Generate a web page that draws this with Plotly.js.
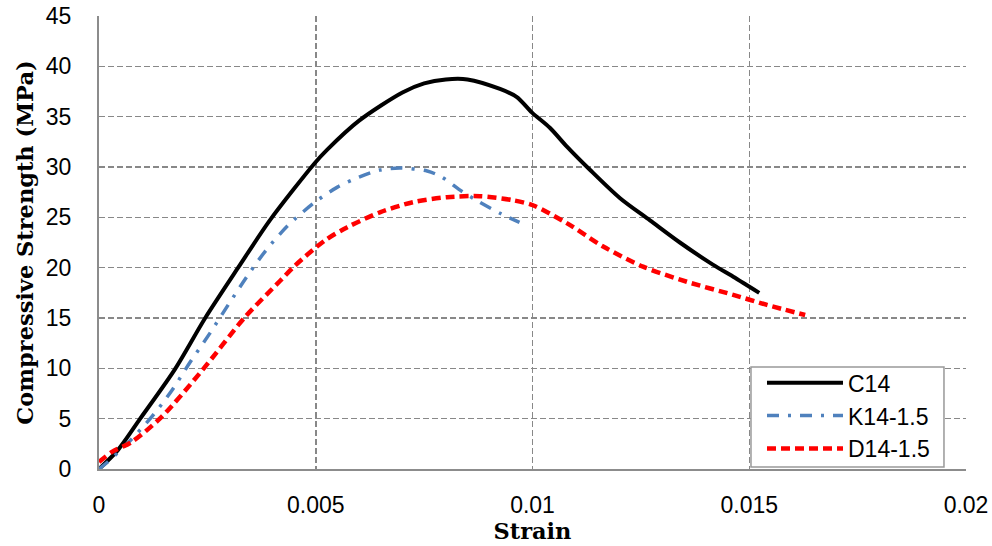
<!DOCTYPE html>
<html>
<head>
<meta charset="utf-8">
<script src="https://cdn.plot.ly/plotly-3.0.1.min.js"></script>
<style>html,body{margin:0;padding:0;background:#fff;}#chart{width:992px;height:546px;}</style>
</head>
<body>
<div id="chart"></div>
<script>
const c14Strain = [0, 0.00044, 0.00095, 0.00175, 0.00245, 0.00321, 0.00394, 0.00498, 0.00526, 0.006, 0.007, 0.0075, 0.008, 0.0085, 0.00925, 0.00964, 0.00999, 0.0104, 0.0108, 0.01133, 0.01202, 0.01271, 0.0134, 0.01416, 0.01463, 0.01523];
const c14Stress = [0, 1.9, 5.0, 9.9, 15.0, 20.0, 24.7, 30.4, 31.7, 34.6, 37.4, 38.3, 38.7, 38.7, 37.75, 36.95, 35.4, 33.9, 32.0, 29.7, 26.9, 24.7, 22.5, 20.3, 19.1, 17.5];

const k14Strain = [0, 0.0002, 0.00067, 0.00122, 0.00168, 0.0021, 0.00256, 0.00298, 0.00341, 0.00383, 0.00436, 0.00498, 0.0055, 0.006, 0.00648, 0.00694, 0.00757, 0.00791, 0.00833, 0.00874, 0.00925, 0.0097];
const k14Stress = [0, 0.7, 2.6, 5.2, 7.8, 10.6, 13.5, 16.3, 19.1, 21.6, 24.2, 26.5, 28.0, 29.0, 29.7, 29.9, 29.6, 29.0, 27.7, 26.6, 25.4, 24.5];

const d14Strain = [0, 0.0003, 0.00076, 0.00145, 0.00238, 0.00337, 0.00418, 0.00452, 0.00521, 0.00572, 0.00648, 0.00724, 0.00803, 0.00879, 0.00955, 0.01001, 0.0108, 0.01163, 0.01255, 0.01356, 0.01463, 0.01541, 0.01629];
const d14Stress = [0.7, 1.7, 2.7, 5.2, 9.8, 15.1, 18.7, 20.2, 22.7, 24.0, 25.5, 26.5, 27.0, 27.1, 26.7, 26.2, 24.4, 22.1, 20.1, 18.6, 17.3, 16.3, 15.3];

const seriesNames = ["C14", "K14-1.5", "D14-1.5"];

const traces = [
  {x: c14Strain, y: c14Stress, name: seriesNames[0], mode: "lines", legendgroup: "a",
   line: {color: "#000000", width: 4, shape: "spline", smoothing: 0.8}},
  {x: k14Strain, y: k14Stress, name: seriesNames[1], mode: "lines", legendgroup: "b",
   line: {color: "#4f81bd", width: 3.5, dash: "12px,9px,3px,9px", shape: "spline", smoothing: 0.8}},
  {x: d14Strain, y: d14Stress, name: seriesNames[2], mode: "lines", legendgroup: "c",
   line: {color: "#ff0000", width: 4.5, dash: "9px,5px", shape: "spline", smoothing: 0.8}}
];

const tickFont = {family: "Liberation Sans, Arial, sans-serif", size: 23, color: "#000"};
const titleFont = {family: "DejaVu Serif, serif", size: 22.5, color: "#000", weight: "bold"};

const layout = {
  width: 992, height: 546,
  margin: {l: 99, r: 26, t: 16, b: 77},
  paper_bgcolor: "#fff", plot_bgcolor: "#fff",
  showlegend: true,
  xaxis: {
    range: [0, 0.02], dtick: 0.005, tick0: 0,
    showgrid: true, gridcolor: "#888", gridwidth: 1.5, griddash: "6px,3px",
    showline: true, linecolor: "#8c8c8c", linewidth: 2,
    zeroline: false, ticks: "", tickfont: tickFont, ticklabelstandoff: 14,
    title: {text: "Strain", font: titleFont, standoff: 0}
  },
  yaxis: {
    range: [0, 45], dtick: 5, tick0: 0,
    showgrid: true, gridcolor: "#888", gridwidth: 1.5, griddash: "6px,3px",
    showline: true, linecolor: "#8c8c8c", linewidth: 2,
    zeroline: false, ticks: "", tickfont: tickFont, ticklabelstandoff: 21,
    title: {text: "Compressive Strength (MPa)", font: titleFont, standoff: 6}
  },
  shapes: [
    {type: "rect", xref: "paper", yref: "paper", x0: 0.752, x1: 0.9746, y0: 0.0044, y1: 0.2252,
     fillcolor: "#fff", line: {color: "#999", width: 1.5}, layer: "above"}
  ],
  legend: {
    x: 0.7647, y: 0.238, xanchor: "left", yanchor: "top",
    bgcolor: "rgba(0,0,0,0)", borderwidth: 0,
    font: {family: "Liberation Sans, Arial, sans-serif", size: 23, color: "#000"},
    itemwidth: 76, traceorder: "grouped", tracegroupgap: 0
  }
};

Plotly.newPlot("chart", traces, layout, {displayModeBar: false, staticPlot: true});
</script>
</body>
</html>
